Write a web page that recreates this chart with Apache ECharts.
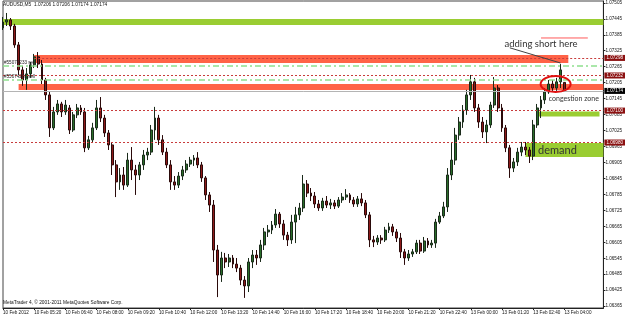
<!DOCTYPE html>
<html><head><meta charset="utf-8">
<script src="https://cdn.jsdelivr.net/npm/echarts@6/dist/echarts.min.js"></script>
<style>html,body{margin:0;padding:0;background:#fff}#c{width:625px;height:317px}</style>
</head><body><div id="c"></div>
<script>
// AUDUSD candles (10-minute steps)
const opens=[1.07411,1.07433,1.07441,1.07418,1.07347,1.07253,1.07215,1.07238,1.07272,1.07302,
1.07275,1.07215,1.07159,1.07035,1.07095,1.07125,1.07095,1.07110,1.07027,1.07084,
1.07110,1.07095,1.06960,1.06990,1.07035,1.07110,1.07072,1.07016,1.06971,1.06896,
1.06832,1.06858,1.06820,1.06914,1.06877,1.06858,1.06896,1.06933,1.06944,1.07027,
1.07072,1.06990,1.06944,1.06896,1.06832,1.06820,1.06854,1.06877,1.06899,1.06914,
1.06922,1.06896,1.06847,1.06783,1.06745,1.06576,1.06482,1.06546,1.06531,1.06546,
1.06523,1.06508,1.06463,1.06441,1.06531,1.06557,1.06546,1.06595,1.06644,1.06651,
1.06670,1.06711,1.06674,1.06632,1.06614,1.06681,1.06708,1.06734,1.06824,1.06790,
1.06779,1.06749,1.06734,1.06760,1.06745,1.06753,1.06741,1.06764,1.06775,1.06783,
1.06764,1.06749,1.06768,1.06753,1.06708,1.06614,1.06606,1.06621,1.06614,1.06651,
1.06663,1.06644,1.06621,1.06569,1.06546,1.06561,1.06569,1.06602,1.06572,1.06610,
1.06595,1.06602,1.06681,1.06704,1.06738,1.06858,1.06914,1.07008,1.07057,1.07102,
1.07159,1.07208,1.07110,1.07057,1.07020,1.07046,1.07121,1.07185,1.07110,1.07035,
1.06960,1.06884,1.06907,1.06944,1.06963,1.06952,1.06929,1.07046,1.07110,1.07140,
1.07170,1.07200,1.07185,1.07208,1.07206];
const closes=[1.07433,1.07441,1.07418,1.07347,1.07253,1.07215,1.07238,1.07272,1.07302,1.07275,
1.07215,1.07159,1.07035,1.07095,1.07125,1.07095,1.07121,1.07027,1.07084,1.07110,
1.07095,1.06960,1.06990,1.07035,1.07110,1.07072,1.07016,1.06971,1.06896,1.06832,
1.06858,1.06820,1.06914,1.06877,1.06858,1.06896,1.06933,1.06944,1.07027,1.07072,
1.06990,1.06944,1.06896,1.06832,1.06820,1.06854,1.06877,1.06899,1.06914,1.06922,
1.06896,1.06847,1.06783,1.06745,1.06576,1.06482,1.06546,1.06531,1.06546,1.06523,
1.06508,1.06463,1.06441,1.06531,1.06557,1.06546,1.06595,1.06644,1.06651,1.06670,
1.06711,1.06674,1.06632,1.06614,1.06681,1.06708,1.06734,1.06824,1.06790,1.06779,
1.06749,1.06734,1.06760,1.06745,1.06753,1.06741,1.06764,1.06775,1.06783,1.06764,
1.06749,1.06768,1.06753,1.06708,1.06614,1.06606,1.06621,1.06614,1.06651,1.06663,
1.06644,1.06621,1.06569,1.06546,1.06561,1.06569,1.06602,1.06572,1.06610,1.06595,
1.06602,1.06681,1.06704,1.06738,1.06858,1.06914,1.07008,1.07057,1.07102,1.07159,
1.07208,1.07110,1.07057,1.07020,1.07046,1.07121,1.07185,1.07110,1.07035,1.06960,
1.06884,1.06907,1.06944,1.06963,1.06952,1.06929,1.07046,1.07110,1.07140,1.07170,
1.07200,1.07185,1.07208,1.07253,1.07174];
const lows=[1.07403,1.07418,1.07403,1.07336,1.07234,1.07193,1.07178,1.07223,1.07260,1.07260,
1.07200,1.07140,1.07001,1.07027,1.07084,1.07076,1.07084,1.07012,1.07020,1.07072,
1.07084,1.06944,1.06952,1.06982,1.07027,1.07057,1.07001,1.06952,1.06858,1.06775,
1.06802,1.06802,1.06813,1.06839,1.06783,1.06839,1.06877,1.06914,1.06933,1.06990,
1.06971,1.06933,1.06884,1.06802,1.06802,1.06809,1.06839,1.06866,1.06888,1.06892,
1.06884,1.06832,1.06764,1.06719,1.06531,1.06399,1.06456,1.06508,1.06512,1.06508,
1.06493,1.06444,1.06396,1.06418,1.06508,1.06520,1.06531,1.06576,1.06625,1.06636,
1.06659,1.06659,1.06614,1.06591,1.06599,1.06602,1.06689,1.06719,1.06775,1.06760,
1.06734,1.06723,1.06723,1.06734,1.06730,1.06730,1.06734,1.06753,1.06764,1.06753,
1.06738,1.06738,1.06741,1.06696,1.06587,1.06587,1.06595,1.06599,1.06606,1.06640,
1.06629,1.06606,1.06546,1.06520,1.06535,1.06550,1.06561,1.06561,1.06565,1.06584,
1.06584,1.06584,1.06674,1.06696,1.06719,1.06839,1.06896,1.06990,1.07035,1.07084,
1.07140,1.07095,1.07035,1.06997,1.06978,1.07035,1.07110,1.07095,1.07020,1.06944,
1.06847,1.06869,1.06892,1.06929,1.06933,1.06903,1.06914,1.07035,1.07072,1.07125,
1.07163,1.07174,1.07174,1.07185,1.07174];
const highs=[1.07452,1.07467,1.07448,1.07426,1.07358,1.07268,1.07260,1.07283,1.07313,1.07320,
1.07290,1.07223,1.07170,1.07114,1.07140,1.07133,1.07140,1.07121,1.07095,1.07125,
1.07121,1.07110,1.07005,1.07054,1.07140,1.07151,1.07084,1.07027,1.06978,1.06914,
1.06884,1.06888,1.06941,1.06963,1.06896,1.06907,1.06952,1.06960,1.07046,1.07114,
1.07084,1.07008,1.06960,1.06914,1.06854,1.06869,1.06892,1.06914,1.06926,1.06933,
1.06944,1.06907,1.06854,1.06794,1.06764,1.06595,1.06569,1.06565,1.06561,1.06557,
1.06546,1.06520,1.06478,1.06546,1.06576,1.06576,1.06614,1.06659,1.06670,1.06685,
1.06730,1.06719,1.06689,1.06644,1.06708,1.06738,1.06753,1.06858,1.06839,1.06809,
1.06794,1.06764,1.06772,1.06779,1.06768,1.06764,1.06775,1.06790,1.06805,1.06790,
1.06775,1.06779,1.06790,1.06764,1.06719,1.06629,1.06632,1.06632,1.06663,1.06678,
1.06674,1.06655,1.06640,1.06580,1.06576,1.06580,1.06614,1.06614,1.06625,1.06621,
1.06614,1.06693,1.06719,1.06757,1.06884,1.06978,1.07035,1.07076,1.07121,1.07178,
1.07234,1.07223,1.07125,1.07076,1.07065,1.07133,1.07226,1.07196,1.07125,1.07046,
1.06971,1.06922,1.06960,1.06982,1.06982,1.06963,1.07065,1.07125,1.07155,1.07185,
1.07215,1.07215,1.07223,1.07275,1.07206];

const yTicks=[1.06365,1.06425,1.06485,1.06545,1.06605,1.06665,1.06725,1.06785,1.06845,1.06905,
1.06965,1.07025,1.07085,1.07145,1.07205,1.07265,1.07325,1.07385,1.07445,1.07505];
const xTickLabels=["10 Feb 2012","10 Feb 05:20","10 Feb 06:40","10 Feb 08:00","10 Feb 09:20","10 Feb 10:40",
"10 Feb 12:00","10 Feb 13:20","10 Feb 14:40","10 Feb 16:00","10 Feb 17:20","10 Feb 18:40","10 Feb 20:00",
"10 Feb 21:20","10 Feb 22:40","13 Feb 00:00","13 Feb 01:20","13 Feb 02:40","13 Feb 04:00"];

// levels / zones
const topZone=[1.07422,1.07444];
const supplyUpper=[1.07279,1.07309];
const supplyLower=[1.07177,1.07200];
const smallGreen=[1.07078,1.07097];
const demandZone=[1.06926,1.06978];
const stopLevels=[1.07298,1.07232];
const targetLevels=[1.07100,1.06980];
const orderLevels=[1.07267,1.07215];
const orderTexts=["#55074233 sell","#55074261 sell"];
const bidPrice=1.07174;
const title="AUDUSD,M5  1.07206 1.07206 1.07174 1.07174";

// categories: 10-min slots, weekend skipped, plus empty right margin
const categories=[];
for(let i=0;i<155;i++){
  let d,m;
  if(i<120){m=240+i*10;d="10 Feb";}else{m=(i-120)*10;d="13 Feb";}
  const hh=String(Math.floor(m/60)).padStart(2,'0'), mm=String(m%60).padStart(2,'0');
  categories.push(d+" "+hh+":"+mm);
}
const candles=opens.map((o,i)=>[o,closes[i],lows[i],highs[i]]);
const first=categories[0], last=categories[categories.length-1];

const F='Liberation Sans, Arial, sans-serif';
const chart=echarts.init(document.getElementById('c'),null,{renderer:'canvas'});
const tag=(bg,v)=>({show:true,position:'end',distance:1,formatter:v.toFixed(5),
  backgroundColor:bg,color:'#fff',fontSize:4.6,fontFamily:F,padding:[1,2,0,2]});
const orderTag=(t)=>({show:true,position:'insideStartTop',distance:[1,1],formatter:t,fontSize:4.6,fontFamily:F,color:'#222'});
const redDot={color:'#c83c3c',type:[2,2],width:1};
const greenDash={color:'#8fe08f',type:[6,3,2,3],width:1.5};
const hLine=(from,p,style,label)=>({type:'line',data:[],z:2,silent:true,
  markLine:{silent:true,symbol:'none',animation:false,lineStyle:style,label:label,
    data:[[{coord:[from,p]},{coord:[last,p]}]]}});

const option={
  animation:false,
  backgroundColor:'#fff',
  grid:{left:2,right:18,top:1,bottom:9,show:true,borderColor:'#444',borderWidth:1,backgroundColor:'#fff'},
  xAxis:{type:'category',data:categories,boundaryGap:false,
    axisLine:{show:true,lineStyle:{color:'#222',width:1}},
    axisTick:{show:true,length:2,interval:(i)=>i%8===0&&i<=144,lineStyle:{color:'#222'}},
    axisLabel:{show:true,interval:(i)=>i%8===0&&i<=144,formatter:(v,i)=>xTickLabels[i/8]||'',
      align:'left',fontSize:4.6,fontFamily:F,color:'#111',margin:2},
    splitLine:{show:false}},
  yAxis:{type:'value',position:'right',min:1.06358,max:1.07512,
    axisLine:{show:true,lineStyle:{color:'#222',width:1}},
    axisTick:{show:true,length:2,customValues:yTicks,lineStyle:{color:'#222'}},
    axisLabel:{show:true,customValues:yTicks,formatter:v=>v.toFixed(5),fontSize:4.6,fontFamily:F,color:'#111',margin:2},
    splitLine:{show:false}},
  series:[
    {type:'line',data:[],z:1,silent:true,
      markArea:{silent:true,data:[
        [{yAxis:topZone[0],itemStyle:{color:'#9acd32'}},{yAxis:topZone[1]}],
        [{xAxis:categories[8],yAxis:supplyUpper[0],itemStyle:{color:'#ff6347'}},{xAxis:categories[145],yAxis:supplyUpper[1]}],
        [{xAxis:categories[4],yAxis:supplyLower[0],itemStyle:{color:'#ff6347'}},{xAxis:categories[154],yAxis:supplyLower[1]}],
        [{xAxis:categories[137],yAxis:smallGreen[0],itemStyle:{color:'#9acd32'}},{xAxis:categories[153],yAxis:smallGreen[1]}],
        [{xAxis:categories[134],yAxis:demandZone[0],itemStyle:{color:'#9acd32'}},{xAxis:categories[154],yAxis:demandZone[1]}]
      ]}},
    hLine(categories[8],stopLevels[0],redDot,tag('#8b1010',stopLevels[0])),
    hLine(first,stopLevels[1],redDot,tag('#8b1010',stopLevels[1])),
    hLine(first,targetLevels[0],redDot,tag('#8b1010',targetLevels[0])),
    hLine(first,targetLevels[1],redDot,tag('#8b1010',targetLevels[1])),
    hLine(first,orderLevels[0],greenDash,orderTag(orderTexts[0])),
    hLine(first,orderLevels[1],greenDash,orderTag(orderTexts[1])),
    hLine(first,bidPrice,{color:'#b4b4b4',type:'solid',width:1},tag('#000',bidPrice)),
    {type:'candlestick',data:candles,z:3,barWidth:2.4,
      itemStyle:{color:'#2a6e2a',color0:'#8e1a1a',borderColor:'#1a2a1a',borderColor0:'#2a0a0a',borderWidth:1}}
  ]
};
chart.setOption(option);

// annotations anchored through the chart's scales
const px=(i,p)=>chart.convertToPixel({gridIndex:0},[categories[i],p]);
const ell=px(142,1.07200), txt=px(138,1.07351), l1=px(138,1.07373), l2=px(150,1.07373);
const a1=px(130,1.07336), a2=px(143,1.07279), cz=px(140,1.07144), dm=px(138,1.06952);
chart.setOption({graphic:[
  {type:'text',left:3,top:2,style:{text:title,fontSize:4.8,fontFamily:F,fill:'#111'}},
  {type:'text',left:3,top:300,style:{text:'MetaTrader 4, © 2001-2011 MetaQuotes Software Corp.',fontSize:4.8,fontFamily:F,fill:'#111'}},
  {type:'line',z:10,shape:{x1:l1[0],y1:l1[1],x2:l2[0],y2:l2[1]},style:{stroke:'#ff5a5a',lineWidth:1}},
  {type:'line',z:10,shape:{x1:a1[0],y1:a1[1],x2:a2[0],y2:a2[1]},style:{stroke:'#444',lineWidth:1}},
  {type:'text',z:10,x:txt[0],y:txt[1],style:{text:'adding short here',fontSize:9.5,fontFamily:'Lato, sans-serif',fill:'#333',align:'center',verticalAlign:'middle'}},
  {type:'ellipse',z:10,shape:{cx:ell[0]-1,cy:ell[1],rx:15,ry:8},style:{fill:'none',stroke:'#e01010',lineWidth:2}},
  {type:'text',z:10,x:cz[0],y:cz[1],style:{text:'congestion zone',fontSize:7,fontFamily:'Lato, sans-serif',fill:'#333',align:'left',verticalAlign:'middle'}},
  {type:'text',z:10,x:dm[0]-3,y:dm[1],style:{text:'demand',fontSize:11,fontFamily:'Lato, sans-serif',fill:'#333',align:'left',verticalAlign:'middle'}}
]});
</script>
</body></html>
